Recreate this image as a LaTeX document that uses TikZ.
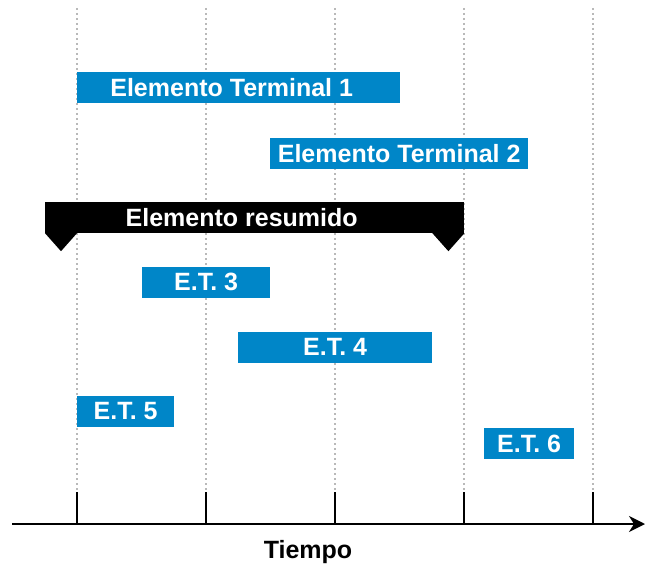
\documentclass[tikz,border=0pt]{standalone}
\usepackage{fontspec}
\setmainfont{Liberation Sans}
\usetikzlibrary{arrows.meta}
\definecolor{barBlue}{RGB}{0,134,200}
\definecolor{gridGray}{RGB}{185,185,185}
\tikzstyle{bar} = [rectangle, fill=barBlue, inner sep=0pt, minimum height=31pt, anchor=west]
\tikzstyle{sumBar} = [rectangle, fill=black, inner sep=0pt, minimum height=31pt, anchor=west]
\tikzstyle{lbl} = [text=white, inner sep=0pt, font=\fontsize{25}{27}\selectfont\bfseries]
\tikzstyle{gridLine} = [gridGray, line width=1.2pt, dash pattern=on 2pt off 3pt]

\begin{document}
\begin{tikzpicture}[x=1pt,y=-1pt]
  \useasboundingbox (0,0) rectangle (645,567);
  % grid
  \foreach \x in {77,206,335,464,593} {
    \coordinate (g\x) at (\x,8);
    \coordinate (k\x) at (\x,492);
    \draw[gridLine] (g\x) -- (k\x);
  }
  % bars
  \node[bar,minimum width=323pt] (t1) at (77,87.5) {};
  \node[lbl] at ([xshift=-7pt]t1.center) {Elemento Terminal 1};
  \node[bar,minimum width=258pt] (t2) at (270,153.5) {};
  \node[lbl] at (t2.center) {Elemento Terminal 2};
  \node[sumBar,minimum width=419pt] (res) at (45,217.5) {};
  \node[lbl] at ([xshift=-13pt]res.center) {Elemento resumido};
  \fill (res.south west) -- ++(32,0) -- ++(-16,18) -- cycle;
  \fill (res.south east) -- ++(-32,0) -- ++(16,18) -- cycle;
  \node[bar,minimum width=128pt] (t3) at (142,282) {};
  \node[lbl] at (t3.center) {E.T. 3};
  \node[bar,minimum width=194pt] (t4) at (238,347) {};
  \node[lbl] at (t4.center) {E.T. 4};
  \node[bar,minimum width=97pt] (t5) at (77,411.5) {};
  \node[lbl] at (t5.center) {E.T. 5};
  \node[bar,minimum width=90pt] (t6) at (484,443.5) {};
  \node[lbl] at (t6.center) {E.T. 6};
  % axis
  \coordinate (o) at (12,524);
  \coordinate (e) at (645,524);
  \draw[line width=2pt,-{Stealth[length=16pt,width=16pt,inset=5pt]}] (o) -- (e);
  \foreach \x in {77,206,335,464,593}
    \draw[line width=2pt] (k\x) -- (\x,524);
  \node[lbl,text=black] (tm) at (308,552) {Tiempo};
\end{tikzpicture}
\end{document}
